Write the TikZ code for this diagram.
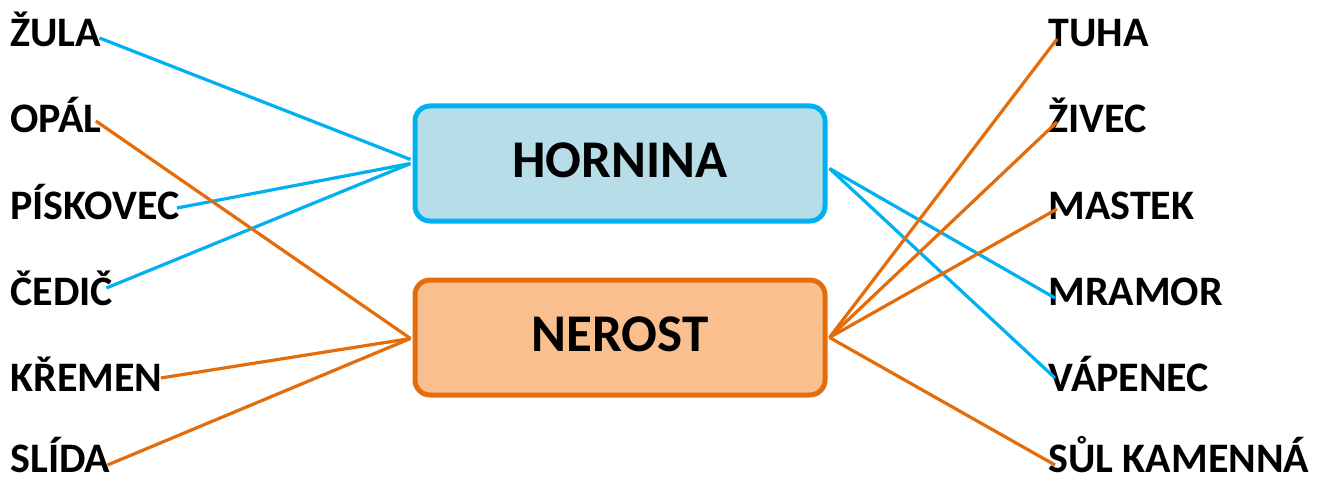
\documentclass[tikz,border=0pt]{standalone}
\usepackage{fontspec}
\setmainfont{Carlito}
\definecolor{hblue}{HTML}{00B0F0}
\definecolor{hfill}{HTML}{B7DEE8}
\definecolor{norange}{HTML}{E46C0A}
\definecolor{nfill}{HTML}{F9BF8F}
\tikzset{word/.style={anchor=base west, inner sep=0pt, font=\fontsize{21}{21}\selectfont\bfseries},
  groupbox/.style={rounded corners=7.5pt, line width=2.5pt, minimum width=205pt, minimum height=57.5pt, text depth=3pt, font=\fontsize{26.5}{26.5}\selectfont\bfseries},
  hline/.style={hblue, line width=1.6pt},
  nline/.style={norange, line width=1.6pt}}

\begin{document}
\begin{tikzpicture}[x=0.5pt,y=-0.5pt]
  \useasboundingbox (0,0) rectangle (1322,481);
  \node[groupbox, draw=hblue, fill=hfill] (hornina) at (620,163.5) {HORNINA};
  \node[groupbox, draw=norange, fill=nfill] (nerost) at (620,337.5) {NEROST};
  \begin{scope}
   \node[word] (zula) at (10,47) {ŽULA};
   \node[word] (opal) at (10,133) {OPÁL};
   \node[word] (piskovec) at (10,219) {PÍSKOVEC};
   \node[word] (cedic) at (10,305) {ČEDIČ};
   \node[word] (kremen) at (10,391) {KŘEMEN};
   \node[word] (slida) at (10,472) {SLÍDA};
  \end{scope}
  \begin{scope}
   \node[word] (tuha) at (1048,47) {TUHA};
   \node[word] (zivec) at (1048,133) {ŽIVEC};
   \node[word] (mastek) at (1048,219) {MASTEK};
   \node[word] (mramor) at (1048,305) {MRAMOR};
   \node[word] (vapenec) at (1048,391) {VÁPENEC};
   \node[word] (sul) at (1048,472) {SŮL KAMENNÁ};
  \end{scope}
  \draw[hline] ([shift={(-2,-9)}]zula.base east) -- ([shift={(-2,-4)}]hornina.west);
  \draw[hline] ([shift={(-3,-11)}]piskovec.base east) -- ([xshift=-1pt]hornina.west);
  \draw[hline] ([shift={(-7,-17)}]cedic.base east) -- ([xshift=-1pt]hornina.west);
  \draw[nline] ([shift={(-6,-12)}]opal.base east) -- ([shift={(-2,1)}]nerost.west);
  \draw[nline] ([shift={(-2,-13)}]kremen.base east) -- ([shift={(-2,1)}]nerost.west);
  \draw[nline] ([shift={(-3,-7)}]slida.base east) -- ([shift={(-2,1)}]nerost.west);
  \draw[hline] ([shift={(2,5)}]hornina.east) -- ([shift={(7,-7)}]mramor.base west);
  \draw[hline] ([shift={(2,5)}]hornina.east) -- ([shift={(7,-13)}]vapenec.base west);
  \draw[nline] ([xshift=1pt]nerost.east) -- ([shift={(9,-8)}]tuha.base west);
  \draw[nline] ([xshift=1pt]nerost.east) -- ([shift={(9,-11)}]zivec.base west);
  \draw[nline] ([xshift=1pt]nerost.east) -- ([shift={(9,-10)}]mastek.base west);
  \draw[nline] ([xshift=1pt]nerost.east) -- ([shift={(7,-7)}]sul.base west);
 \end{tikzpicture}
\end{document}
